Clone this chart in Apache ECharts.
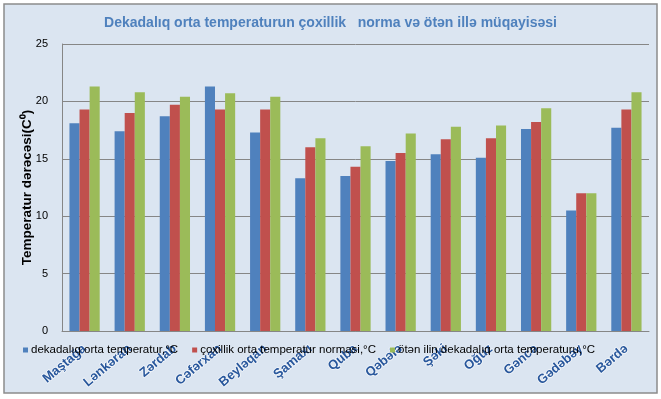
<!DOCTYPE html>
<html>
<head>
<meta charset="utf-8">
<script src="https://cdn.jsdelivr.net/npm/echarts@6/dist/echarts.min.js"></script>
<style>
  html, body { margin: 0; padding: 0; background: #fff; }
  #chart { width: 661px; height: 399px; }
</style>
</head>
<body>
<div id="chart"></div>
<script>
// stations
const stations = ['Maştağa', 'Lənkəran', 'Zərdab', 'Cəfərxan', 'Beyləqan', 'Şamaxı', 'Quba',
  'Qəbələ', 'Şəki', 'Oğuz', 'Gəncə', 'Gədəbəy', 'Bərdə']

const seriesNames = [
  'dekadalıq orta temperatur,°C',
  'çoxillik orta temperatur normasi,°C',
  'ötən ilin dekadalıq orta temperaturu,°C'
]

// values
const dekadaTemp = [18.1, 17.4, 18.7, 21.3, 17.3, 13.3, 13.5, 14.8, 15.4, 15.1, 17.6, 10.5, 17.7]
const normTemp = [19.3, 19.0, 19.7, 19.3, 19.3, 16.0, 14.3, 15.5, 16.7, 16.8, 18.2, 12.0, 19.3]
const lastYearTemp = [21.3, 20.8, 20.4, 20.7, 20.4, 16.8, 16.1, 17.2, 17.8, 17.9, 19.4, 12.0, 20.8]

const yTicks = { min: 0, max: 25, interval: 5 }

const colors = ['#4f81bd', '#c0504d', '#9bbb59']

let myChart = echarts.init(document.getElementById('chart'))

let option = {
  animation: false,
  backgroundColor: '#ffffff',
  color: colors,
  graphic: [{
    type: 'rect',
    z: -10,
    silent: true,
    shape: { x: 4, y: 4, width: 653, height: 389 },
    style: { fill: '#dbe5f1', stroke: '#8c8c8c', lineWidth: 1.5 }
  }],
  title: {
    text: 'Dekadalıq orta temperaturun çoxillik   norma və ötən illə müqayisəsi',
    left: 'center',
    top: 11,
    textStyle: {
      fontFamily: 'Liberation Sans, Arial, sans-serif',
      fontSize: 14,
      fontWeight: 'bold',
      color: '#4f81bd'
    }
  },
  legend: {
    data: seriesNames,
    left: 18,
    top: 339,
    icon: 'rect',
    itemWidth: 5,
    itemHeight: 5,
    itemGap: 14,
    textStyle: {
      fontFamily: 'Liberation Sans, Arial, sans-serif',
      fontSize: 11.5,
      color: '#000',
      padding: [0, 0, 0, -2]
    }
  },
  grid: {
    left: 62,
    right: 12,
    top: 44,
    bottom: 68,
    containLabel: false
  },
  xAxis: {
    type: 'category',
    data: stations,
    axisLine: { lineStyle: { color: '#868686', width: 1 } },
    axisTick: { show: false },
    axisLabel: {
      interval: 0,
      rotate: 40,
      margin: 16,
      fontFamily: 'Liberation Sans, Arial, sans-serif',
      fontSize: 13,
      fontWeight: 'bold',
      color: '#28579c',
      textBorderColor: 'rgba(255,255,255,0.7)',
      textBorderWidth: 1.5
    }
  },
  yAxis: {
    type: 'value',
    min: yTicks.min,
    max: yTicks.max,
    interval: yTicks.interval,
    name: 'Temperatur dərəcəsi(C⁰)',
    nameLocation: 'middle',
    nameGap: 28,
    nameMoveOverlap: false,
    nameTextStyle: {
      fontFamily: 'Liberation Sans, Arial, sans-serif',
      fontSize: 13.5,
      fontWeight: 'bold',
      color: '#000'
    },
    axisLine: { show: true, lineStyle: { color: '#868686', width: 1 } },
    axisTick: { show: false },
    splitLine: { lineStyle: { color: '#868686', width: 1 } },
    axisLabel: {
      margin: 14,
      fontFamily: 'Liberation Sans, Arial, sans-serif',
      fontSize: 11,
      color: '#000'
    }
  },
  series: [
    { name: seriesNames[0], type: 'bar', data: dekadaTemp, barGap: '0%', barCategoryGap: '33%' },
    { name: seriesNames[1], type: 'bar', data: normTemp, barGap: '0%', barCategoryGap: '33%' },
    { name: seriesNames[2], type: 'bar', data: lastYearTemp, barGap: '0%', barCategoryGap: '33%' }
  ]
}

myChart.setOption(option)
window.addEventListener('resize', function() {
  myChart.resize()
})
</script>
</body>
</html>
